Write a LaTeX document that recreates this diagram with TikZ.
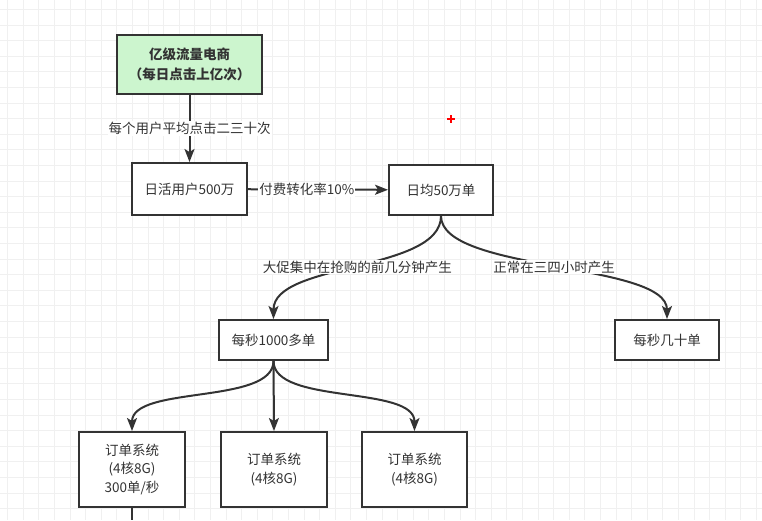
\documentclass[tikz,border=0pt]{standalone}
\usepackage{fontspec}
\setmainfont{Noto Sans CJK SC}
\usetikzlibrary{arrows.meta,positioning}
\definecolor{flowgreen}{RGB}{204,245,206}
\definecolor{flowink}{RGB}{51,51,51}
\definecolor{gridline}{RGB}{240,240,240}
\tikzset{
    box/.style={
        draw=flowink,line width=2pt,fill=white,
        align=center,text=flowink,inner sep=0pt,
        font=\fontsize{13.5}{18.5}\selectfont
    },
    topbox/.style={
        box,fill=flowgreen,font=\fontsize{13.5}{20}\selectfont\bfseries
    },
    flow/.style={
        -{Stealth[length=13pt,width=10pt,inset=3pt]},line width=2pt,draw=flowink
    },
    tag/.style={
        fill=white,text=flowink,inner sep=1pt,
        font=\fontsize{13.5}{16}\selectfont
    }
}

\begin{document}
\begin{tikzpicture}[x=1pt,y=-1pt]
\useasboundingbox (0,0) rectangle (762,520);

% background grid
\foreach \gx in {0,...,49}
    \draw[gridline,line width=0.8pt] (7.5+15.6*\gx,0) -- (7.5+15.6*\gx,520);
\foreach \gy in {0,...,33}
    \draw[gridline,line width=0.8pt] (0,9.4+15.6*\gy) -- (762,9.4+15.6*\gy);

% nodes
\node[topbox,minimum width=145pt,minimum height=59pt]
    (traffic) at (189.5,64.5) {亿级流量电商\\（每日点击上亿次）};
\node[box,minimum width=115pt,minimum height=52pt]
    (users) at (189.5,189) {日活用户500万};
\node[box,minimum width=104pt,minimum height=50pt]
    (orders) at (441,190) {日均50万单};
\node[box,minimum width=109pt,minimum height=40pt]
    (peak) at (273.5,340) {每秒1000多单};
\node[box,minimum width=104pt,minimum height=40pt]
    (normal) at (667,340) {每秒几十单};
\node[box,minimum width=106pt,minimum height=75pt]
    (sysA) at (132,469.5) {订单系统\\(4核8G)\\300单/秒};
\node[box,minimum width=106pt,minimum height=75pt]
    (sysB) at (274,469.5) {订单系统\\(4核8G)};
\node[box,minimum width=105pt,minimum height=75pt]
    (sysC) at (414.5,469.5) {订单系统\\(4核8G)};
\coordinate (below) at (132,520);

% connectors
\draw[flow] (traffic) -- node[tag] {每个用户平均点击二三十次} (users);
\draw[flow] (users) -- node[tag,pos=0.42] {付费转化率10\%} (orders);
\draw[flow] (orders.south) .. controls (441,272) and (273.5,262) ..
    node[tag] {大促集中在抢购的前几分钟产生} (peak.north);
\draw[flow] (orders.south) .. controls (441,272) and (667,262) ..
    node[tag] {正常在三四小时产生} (normal.north);
\draw[flow] (peak.south) .. controls (273.5,405) and (132,385) .. (sysA.north);
\draw[flow] (peak.south) -- (sysB.north);
\draw[flow] (peak.south) .. controls (273.5,405) and (414.5,385) .. (sysC.north);
\draw[flowink,line width=2pt] (sysA.south) -- (below);

% red cursor mark
\draw[red,line width=1.4pt] (447,119) -- (455,119) (451,115) -- (451,123);

\end{tikzpicture}
\end{document}
